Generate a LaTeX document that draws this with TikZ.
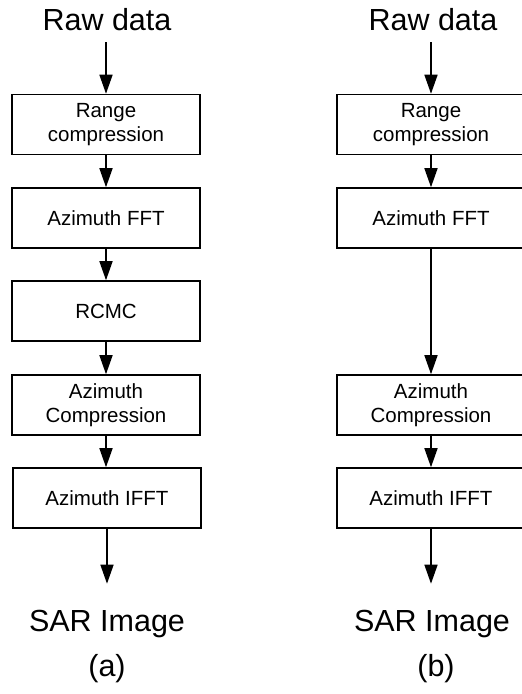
\documentclass[tikz,border=0pt]{standalone}
\usepackage{fontspec}
\setmainfont{Liberation Sans}
\usetikzlibrary{arrows.meta}
\tikzset{
  procbox/.style={draw, line width=1.5pt, minimum width=188pt, minimum height=60pt,
    align=center, inner sep=0pt, font=\fontsize{20.5}{24}\selectfont},
  biglabel/.style={inner sep=0pt, anchor=base, font=\fontsize{30.5}{36}\selectfont},
  flow/.style={line width=1.5pt, -{Triangle[width=13pt,length=19pt]}}
}
\begin{document}
\begin{tikzpicture}[x=1pt,y=1pt]
\useasboundingbox (0,0) rectangle (522,694);
% ---------- (a) ----------
\node[biglabel, outer sep=11pt] (rawa) at (107,663) {Raw data};
\node[procbox] (rca) at (106,569.5) {Range\\compression};
\node[procbox] (ffta) at (106,476) {Azimuth FFT};
\node[procbox] (rcmca) at (106,383) {RCMC};
\node[procbox] (aca) at (106,289) {Azimuth\\Compression};
\node[procbox] (iffta) at (107,196) {Azimuth IFFT};
\node[biglabel, outer sep=27pt] (sara) at (107,62) {SAR Image};
\node[biglabel] (capa) at (107,17) {(a)};
\draw[flow] (rawa.south -| rca.north) -- (rca.north);
\draw[flow] (rca) -- (ffta);
\draw[flow] (ffta) -- (rcmca);
\draw[flow] (rcmca) -- (aca);
\draw[flow] (aca.south) -- (aca.south |- iffta.north);
\draw[flow] (iffta.south) -- (iffta.south |- sara.north);
% ---------- (b) ----------
\node[biglabel, outer sep=11pt] (rawb) at (433,663) {Raw data};
\node[procbox] (rcb) at (431,569.5) {Range\\compression};
\node[procbox] (fftb) at (431,476) {Azimuth FFT};
\node[procbox] (acb) at (431,289) {Azimuth\\Compression};
\node[procbox] (ifftb) at (431,196) {Azimuth IFFT};
\node[biglabel, outer sep=27pt] (sarb) at (432,62) {SAR Image};
\node[biglabel] (capb) at (436,17) {(b)};
\draw[flow] (rawb.south -| rcb.north) -- (rcb.north);
\draw[flow] (rcb) -- (fftb);
\draw[flow] (fftb) -- (acb);
\draw[flow] (acb) -- (ifftb);
\draw[flow] (ifftb.south) -- (ifftb.south |- sarb.north);
\end{tikzpicture}
\end{document}
